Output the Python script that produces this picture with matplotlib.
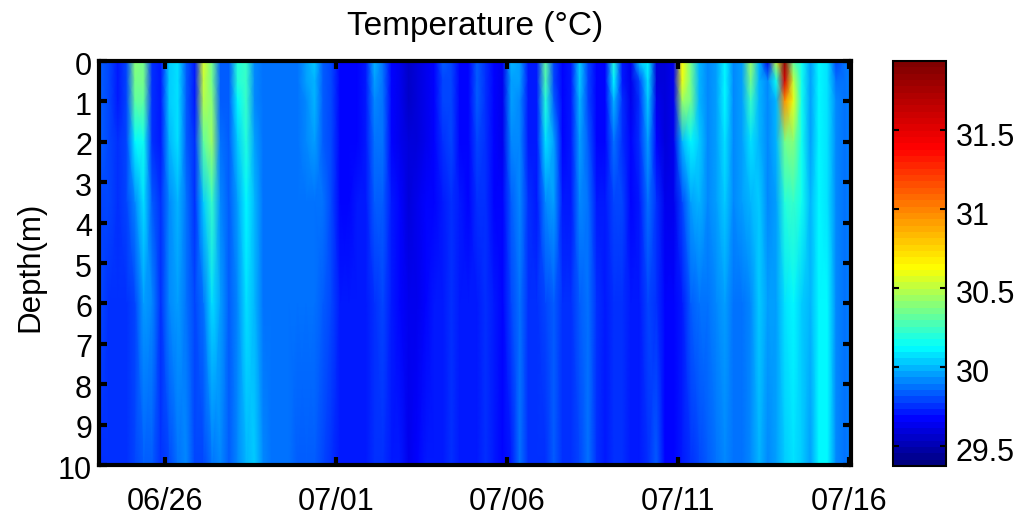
import numpy as np
import matplotlib
matplotlib.use("Agg")
import matplotlib.pyplot as plt
from matplotlib.colors import LinearSegmentedColormap
from matplotlib.transforms import ScaledTranslation

plt.rcParams['font.family'] = ['Liberation Sans', 'DejaVu Sans']

# time axis: days since 06/26, one column of readings every 6 hours
days = np.arange(-1.875, 20.2, 0.25)
depths = [0, 0.5, 1, 2, 3.5, 6, 10]

# temperature (C), one list per depth
temp_0m = [29.85,29.80,29.72,29.80,30.38,30.36,29.74,29.70,30.05,30.08,29.82,29.72,30.55,30.35,29.84,29.82,30.20,30.22,29.92,29.88,
           29.88,29.86,29.86,29.88,29.95,30.02,29.84,29.80,29.66,29.66,29.68,29.72,29.98,29.88,29.68,29.64,29.55,29.58,29.64,29.68,
           29.82,29.80,29.66,29.66,29.84,29.76,29.66,29.62,29.98,29.94,29.72,29.72,30.30,29.78,29.68,29.70,30.04,29.78,29.68,29.66,
           30.18,29.70,29.64,30.02,30.10,29.58,29.58,29.62,30.65,30.35,30.00,29.92,29.96,30.12,29.92,29.96,30.45,30.00,29.62,30.50,
           31.85,30.30,30.15,29.95,30.10,30.08,29.78,29.88,29.90]
temp_05m = [29.84,29.80,29.72,29.80,30.36,30.34,29.74,29.70,30.05,30.08,29.82,29.72,30.52,30.35,29.84,29.82,30.18,30.22,29.92,29.88,
            29.88,29.86,29.86,29.88,29.94,30.00,29.84,29.80,29.66,29.66,29.68,29.72,29.96,29.88,29.68,29.64,29.55,29.58,29.64,29.68,
            29.80,29.80,29.66,29.66,29.84,29.76,29.66,29.62,29.96,29.94,29.72,29.72,30.26,29.78,29.68,29.70,30.02,29.78,29.68,29.66,
            30.10,29.72,29.64,29.80,30.06,29.60,29.58,29.62,30.58,30.35,30.00,29.92,29.96,30.12,29.92,29.96,30.35,30.00,29.90,30.15,
            31.55,30.50,30.15,29.95,30.10,30.08,29.88,29.88,29.90]
temp_1m = [29.84,29.80,29.72,29.78,30.30,30.30,29.74,29.70,30.03,30.08,29.82,29.72,30.48,30.40,29.84,29.82,30.12,30.22,29.92,29.88,
           29.88,29.86,29.86,29.88,29.93,29.98,29.84,29.80,29.66,29.66,29.68,29.72,29.93,29.88,29.68,29.64,29.56,29.58,29.64,29.68,
           29.78,29.80,29.66,29.66,29.82,29.76,29.66,29.62,29.94,29.92,29.72,29.72,30.20,29.82,29.68,29.70,30.00,29.78,29.68,29.66,
           30.00,29.74,29.64,29.76,30.02,29.64,29.58,29.62,30.45,30.35,30.00,29.92,29.96,30.10,29.92,29.96,30.22,30.00,29.90,29.98,
           30.95,30.60,30.15,29.95,30.10,30.08,29.90,29.88,29.90]
temp_2m = [29.82,29.80,29.74,29.78,30.10,30.16,29.76,29.72,29.98,30.06,29.84,29.74,30.30,30.42,29.86,29.82,30.02,30.18,29.96,29.88,
           29.88,29.86,29.86,29.88,29.90,29.94,29.84,29.80,29.68,29.68,29.68,29.72,29.88,29.88,29.68,29.64,29.58,29.60,29.64,29.68,
           29.74,29.78,29.68,29.68,29.78,29.76,29.68,29.64,29.90,29.92,29.72,29.72,30.08,29.96,29.68,29.70,29.96,29.82,29.68,29.68,
           29.86,29.76,29.66,29.74,29.96,29.68,29.60,29.62,29.98,30.12,30.02,29.92,29.96,30.08,29.92,29.96,30.08,30.00,29.90,29.98,
           30.35,30.40,30.15,29.95,30.10,30.08,29.90,29.88,29.90]
temp_35m = [29.80,29.78,29.76,29.78,29.92,30.06,29.82,29.74,29.92,29.98,29.86,29.76,30.04,30.24,29.92,29.84,29.96,30.10,29.98,29.88,
            29.88,29.86,29.86,29.88,29.88,29.88,29.86,29.80,29.68,29.68,29.70,29.72,29.82,29.84,29.70,29.66,29.60,29.62,29.66,29.68,
            29.72,29.76,29.70,29.68,29.74,29.76,29.68,29.66,29.84,29.90,29.74,29.72,29.92,29.94,29.72,29.72,29.90,29.88,29.70,29.70,
            29.78,29.78,29.68,29.72,29.86,29.74,29.64,29.64,29.78,29.96,30.00,29.92,29.96,30.02,29.92,29.94,29.98,30.02,29.92,29.96,
            30.18,30.25,30.14,29.98,30.10,30.08,29.90,29.88,29.90]
temp_6m = [29.78,29.76,29.76,29.76,29.80,29.96,29.92,29.76,29.92,29.96,29.86,29.78,29.86,30.08,29.96,29.84,29.90,30.06,29.98,29.88,
           29.86,29.86,29.86,29.86,29.86,29.86,29.84,29.78,29.70,29.70,29.70,29.72,29.76,29.78,29.72,29.68,29.62,29.64,29.68,29.70,
           29.72,29.74,29.72,29.70,29.72,29.74,29.70,29.68,29.78,29.86,29.76,29.74,29.80,29.84,29.76,29.74,29.82,29.88,29.74,29.72,
           29.74,29.76,29.70,29.72,29.78,29.76,29.68,29.66,29.72,29.82,29.88,29.88,29.90,29.94,29.88,29.88,29.92,30.02,29.94,29.94,
           30.06,30.10,30.04,29.98,30.10,30.10,29.90,29.88,29.90]
temp_10m = [29.76,29.76,29.76,29.76,29.78,29.84,29.84,29.76,29.80,29.86,29.90,29.78,29.80,29.88,29.92,29.84,29.92,30.00,30.02,29.90,
            29.86,29.86,29.86,29.84,29.84,29.82,29.80,29.76,29.70,29.70,29.72,29.72,29.74,29.76,29.72,29.70,29.64,29.68,29.70,29.70,
            29.70,29.74,29.72,29.70,29.72,29.74,29.70,29.68,29.72,29.88,29.76,29.74,29.76,29.82,29.76,29.74,29.80,29.86,29.74,29.72,
            29.74,29.74,29.70,29.72,29.74,29.82,29.68,29.66,29.70,29.76,29.80,29.84,29.88,29.90,29.86,29.86,29.90,29.98,29.92,29.94,
            30.04,30.06,30.02,29.96,30.12,30.10,29.92,29.88,29.90]
temp = np.array([temp_0m, temp_05m, temp_1m, temp_2m, temp_35m, temp_6m, temp_10m])

date_pos = [0, 5, 10, 15, 20]
date_labels = ['06/26', '07/01', '07/06', '07/11', '07/16']
depth_ticks = list(range(11))
cbar_ticks = [29.5, 30, 30.5, 31, 31.5]
cbar_labels = ['29.5', '30', '30.5', '31', '31.5']
t_min, t_max = 29.37, 31.94

# the original jet map is squeezed towards the low end
cmap = LinearSegmentedColormap.from_list('squeezed_jet', [
    (0.00, (0, 0, 0.5)), (0.11, (0, 0, 1)), (0.20, (0, 0.5, 1)), (0.29, (0, 1, 1)),
    (0.39, (0.5, 1, 0.5)), (0.49, (1, 1, 0)), (0.64, (1, 0.5, 0)), (0.79, (1, 0, 0)),
    (1.00, (0.5, 0, 0))], N=64)

W, H = 1015, 516
fig = plt.figure(figsize=(W/100, H/100), dpi=100)
ax = fig.add_axes([99/W, 1-465/H, 752/W, 404/H])
mesh = ax.pcolormesh(days, depths, temp, cmap=cmap, vmin=t_min, vmax=t_max, shading='gouraud')
ax.set_xlim(-1.93, 20.06)
ax.set_ylim(10, 0)
ax.set_xticks(date_pos)
ax.set_xticklabels(date_labels)
ax.set_yticks(depth_ticks)
ax.tick_params(direction='in', length=6, width=3, top=True, right=True, labelsize=22)
ax.tick_params(axis='x', pad=16)
ax.tick_params(axis='y', pad=5)
for s in ax.spines.values():
    s.set_linewidth(3)
ax.set_ylabel('Depth(m)', fontsize=22.5, labelpad=9)
ax.yaxis.set_label_coords(-0.071, 0.49)
fig.text(475/W, 1-27/H, 'Temperature (°C)', fontsize=24, ha='center', va='center')

cax = fig.add_axes([893/W, 1-466/H, 53/W, 405/H])
cb = fig.colorbar(mesh, cax=cax)
cb.set_ticks(cbar_ticks)
cb.set_ticklabels(cbar_labels)
cax.tick_params(direction='in', length=4, width=1.5, left=True, right=True, labelsize=22, pad=7)
cb.outline.set_linewidth(1.5)

# labels sit a little below their ticks in the original
for lab in ax.get_yticklabels():
    lab.set_transform(lab.get_transform() + ScaledTranslation(0, -2/100, fig.dpi_scale_trans))
for lab in cax.get_yticklabels():
    lab.set_transform(lab.get_transform() + ScaledTranslation(0, -4/100, fig.dpi_scale_trans))

fig.savefig('out.png', dpi=100)
